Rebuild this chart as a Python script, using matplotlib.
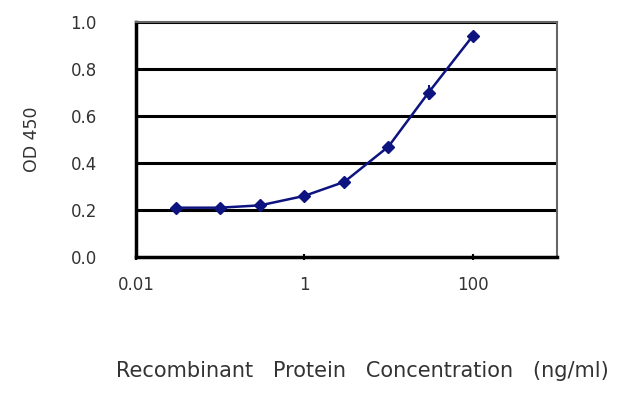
import matplotlib

matplotlib.use("Agg")
import matplotlib.pyplot as plt
from matplotlib.ticker import FixedLocator, NullLocator

# Data
conc = [0.03, 0.1, 0.3, 1, 3, 10, 30, 100]
od450 = [0.21, 0.21, 0.22, 0.26, 0.32, 0.47, 0.70, 0.94]
err = [0.02, 0.02, 0.015, 0.02, 0.015, 0.02, 0.03, 0.015]
y_ticks = [0.0, 0.2, 0.4, 0.6, 0.8, 1.0]
x_ticks = [0.01, 1, 100]
x_tick_labels = ["0.01", "1", "100"]

NAVY = "#0d1480"
TEXT = "#333333"

plt.rcParams["font.family"] = ["DejaVu Sans"]

fig = plt.figure(figsize=(6.32, 4.08), dpi=100)
ax = fig.add_axes([0.215, 0.370, 0.666, 0.576])

# horizontal gridlines
for yv in y_ticks[1:]:
    ax.axhline(yv, color="black", lw=2.2, zorder=1)

ax.errorbar(conc, od450, yerr=err, color=NAVY, lw=1.8, marker="D",
            markersize=6.5, capsize=0, elinewidth=1.5, zorder=5)

ax.set_xscale("log")
ax.set_xlim(0.01, 1000)
ax.set_ylim(0, 1.0)

ax.xaxis.set_major_locator(FixedLocator(x_ticks))
ax.xaxis.set_minor_locator(NullLocator())
ax.set_xticklabels(x_tick_labels)
ax.set_yticks(y_ticks)
ax.set_yticklabels([f"{v:.1f}" for v in y_ticks])

ax.tick_params(axis="x", length=5, width=1.5, direction="inout",
               labelsize=12, labelcolor=TEXT, pad=11)
ax.tick_params(axis="y", length=0, labelsize=12, labelcolor=TEXT, pad=28)

for side in ["left", "bottom"]:
    ax.spines[side].set_linewidth(2.5)
    ax.spines[side].set_color("black")
for side in ["top", "right"]:
    ax.spines[side].set_linewidth(1.5)
    ax.spines[side].set_color("#666666")

ax.set_ylabel("OD 450", fontsize=12.5, color=TEXT, labelpad=21)
fig.text(0.573, 0.076, "Recombinant   Protein   Concentration   (ng/ml)",
         fontsize=15, color=TEXT, ha="center", va="baseline")

fig.savefig("out.png", dpi=100)
